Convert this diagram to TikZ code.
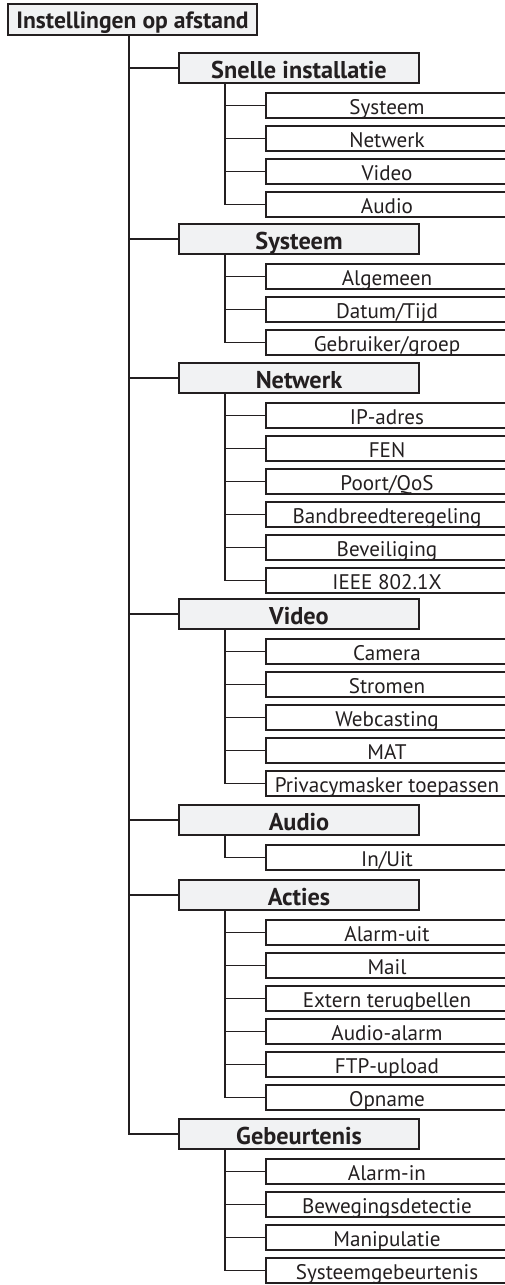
\documentclass[tikz,border=0pt]{standalone}
\usepackage{fontspec}
\setmainfont{PT Sans}
\usepackage{tikz}
\usetikzlibrary{calc}

\definecolor{ink}{HTML}{231F20}
\definecolor{grpfill}{HTML}{F1F2F3}

\begin{document}
\begin{tikzpicture}[x=1pt, y=-1pt,
    wire/.style={draw=ink, line width=1.6pt},
    rootbox/.style={draw=ink, line width=1.6pt, fill=grpfill, text=ink, inner sep=0pt,
        minimum width=249pt, minimum height=31pt, text height=21pt, text depth=4pt,
        font=\fontsize{23.6}{24}\selectfont\bfseries},
    grp/.style={draw=ink, line width=1.6pt, fill=grpfill, text=ink, inner sep=0pt,
        minimum width=240pt, minimum height=30pt, text height=22pt, text depth=2pt,
        font=\fontsize{24.3}{25}\selectfont\bfseries},
    leaf/.style={draw=ink, line width=1.6pt, fill=white, text=ink, inner sep=0pt,
        minimum width=242pt, minimum height=25pt, text height=18pt, text depth=1pt,
        font=\fontsize{21.1}{22}\selectfont}]
    \useasboundingbox (0,0) rectangle (504,1285);

    % Root
    \node[rootbox] (root) at (132.5,19.5) {Instellingen op afstand};

    % Snelle installatie
    \node[grp] (snel) at (299,68) {Snelle installatie};
    \foreach \t [count=\i] in {Systeem,Netwerk,Video,Audio} {
        \node[leaf] (snel-\i) at (387,{68+37.5+33*(\i-1)}) {\t};
        \draw[wire] ([xshift=-74pt]snel.south) |- (snel-\i.west);
    }

    % Systeem
    \node[grp] (sys) at (299,239) {Systeem};
    \foreach \t [count=\i] in {Algemeen,Datum/Tijd,Gebruiker/groep} {
        \node[leaf] (sys-\i) at (387,{239+37.5+33*(\i-1)}) {\t};
        \draw[wire] ([xshift=-74pt]sys.south) |- (sys-\i.west);
    }

    % Netwerk
    \node[grp] (net) at (299,378) {Netwerk};
    \foreach \t [count=\i] in {IP-adres,FEN,Poort/QoS,Bandbreedteregeling,Beveiliging,IEEE 802.1X} {
        \node[leaf] (net-\i) at (387,{378+37.5+33*(\i-1)}) {\t};
        \draw[wire] ([xshift=-74pt]net.south) |- (net-\i.west);
    }

    % Video
    \node[grp] (vid) at (299,614) {Video};
    \foreach \t [count=\i] in {Camera,Stromen,Webcasting,MAT,Privacymasker toepassen} {
        \node[leaf] (vid-\i) at (387,{614+37.5+33*(\i-1)}) {\t};
        \draw[wire] ([xshift=-74pt]vid.south) |- (vid-\i.west);
    }

    % Audio
    \node[grp] (aud) at (299,820) {Audio};
    \node[leaf] (aud-1) at (387,857.5) {In/Uit};
    \draw[wire] ([xshift=-74pt]aud.south) |- (aud-1.west);

    % Acties
    \node[grp] (act) at (299,895) {Acties};
    \foreach \t [count=\i] in {Alarm-uit,Mail,Extern terugbellen,Audio-alarm,FTP-upload,Opname} {
        \node[leaf] (act-\i) at (387,{895+37.5+33*(\i-1)}) {\t};
        \draw[wire] ([xshift=-74pt]act.south) |- (act-\i.west);
    }

    % Gebeurtenis
    \node[grp] (geb) at (299,1134) {Gebeurtenis};
    \foreach \t [count=\i] in {Alarm-in,Bewegingsdetectie,Manipulatie,Systeemgebeurtenis} {
        \node[leaf] (geb-\i) at (387,{1134+37.5+33*(\i-1)}) {\t};
        \draw[wire] ([xshift=-74pt]geb.south) |- (geb-\i.west);
    }

    % Trunk
    \foreach \g in {snel,sys,net,vid,aud,act,geb}
        \draw[wire] ([xshift=-3.5pt]root.south) |- (\g.west);
\end{tikzpicture}
\end{document}
